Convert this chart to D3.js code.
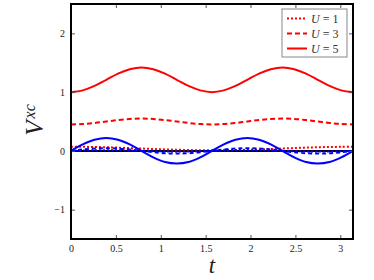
<!DOCTYPE html>
<html><head><meta charset="utf-8">
<script src="https://cdn.jsdelivr.net/npm/d3@7"></script>
<style>body{margin:0;background:#fff}svg{display:block}</style>
</head><body>
<svg id="c" width="374" height="280"></svg>
<script>
const tVals = [0,0.1309,0.2618,0.3927,0.5236,0.6545,0.7854,0.9163,1.0472,1.1781,1.309,1.4399,1.5708,1.7017,1.8326,1.9635,2.0944,2.2253,2.3562,2.4871,2.618,2.7489,2.8798,3.0107,3.1416];
const redU5 = [1.00,1.03,1.105,1.21,1.315,1.39,1.42,1.39,1.315,1.21,1.105,1.03,1.00,1.03,1.105,1.21,1.315,1.39,1.42,1.39,1.315,1.21,1.105,1.03,1.00];
const redU3 = [0.45,0.457,0.475,0.50,0.525,0.543,0.55,0.543,0.525,0.50,0.475,0.457,0.45,0.457,0.475,0.50,0.525,0.543,0.55,0.543,0.525,0.50,0.475,0.457,0.45];
const redU1 = [0.07,0.069,0.066,0.061,0.055,0.048,0.04,0.032,0.025,0.019,0.014,0.011,0.01,0.011,0.014,0.019,0.025,0.032,0.04,0.048,0.055,0.061,0.066,0.069,0.07];
const blueU5 = [0,0.11,0.19,0.22,0.19,0.11,0,-0.11,-0.19,-0.215,-0.19,-0.11,0,0.11,0.19,0.22,0.19,0.11,0,-0.11,-0.19,-0.215,-0.19,-0.11,0];
const blueU3 = [0,0.023,0.04,0.046,0.04,0.023,0,-0.023,-0.04,-0.046,-0.04,-0.023,0,0.023,0.04,0.046,0.04,0.023,0,-0.023,-0.04,-0.046,-0.04,-0.023,0];
const blueU1 = [0,0.005,0.009,0.01,0.009,0.005,0,-0.005,-0.009,-0.01,-0.009,-0.005,0,0.005,0.009,0.01,0.009,0.005,0,-0.005,-0.009,-0.01,-0.009,-0.005,0];
const xTicks = [0,0.5,1,1.5,2,2.5,3];
const yTicks = [-1,0,1,2];
const legendLabels = ["1","3","5"];

const svg = d3.select("#c");
const L=71, R=353, T=4, B=239;
const x = d3.scaleLinear().domain([0, Math.PI]).range([L,R]);
const y = d3.scaleLinear().domain([-1.5, 2.5]).range([B,T]);
const font = "'Liberation Serif','DejaVu Serif',serif";

svg.append("rect").attr("x",L).attr("y",T).attr("width",R-L).attr("height",B-T).attr("fill","#fff");

// zero line
svg.append("line").attr("x1",x(0)).attr("x2",x(Math.PI)).attr("y1",y(0)).attr("y2",y(0))
  .attr("stroke","#000").attr("stroke-width",2);

const line = d3.line().x((d,i)=>x(tVals[i])).y(d=>y(d)).curve(d3.curveCatmullRom);
const series = [
  {v:redU1,c:"#ff0000",dash:"2,2"},
  {v:redU3,c:"#ff0000",dash:"5,3"},
  {v:redU5,c:"#ff0000",dash:null},
  {v:blueU1,c:"#0000ff",dash:"2,2"},
  {v:blueU3,c:"#0000ff",dash:"4,3"},
  {v:blueU5,c:"#0000ff",dash:null}
];
series.forEach(s=>{
  svg.append("path").attr("d",line(s.v)).attr("fill","none").attr("stroke",s.c)
    .attr("stroke-width",2).attr("stroke-dasharray",s.dash);
});

// axes with inward ticks
const gb = svg.append("g").attr("transform",`translate(0,${B})`)
  .call(d3.axisBottom(x).tickValues(xTicks).tickSize(-4).tickPadding(6).tickFormat(d3.format("")));
const gt = svg.append("g").attr("transform",`translate(0,${T})`)
  .call(d3.axisTop(x).tickValues(xTicks).tickSize(-4).tickFormat(""));
const gl = svg.append("g").attr("transform",`translate(${L},0)`)
  .call(d3.axisLeft(y).tickValues(yTicks).tickSize(-4).tickPadding(6).tickFormat(d=>d<0?"\u2212"+Math.abs(d):d));
const gr = svg.append("g").attr("transform",`translate(${R},0)`)
  .call(d3.axisRight(y).tickValues(yTicks).tickSize(-4).tickFormat(""));
[gb,gt,gl,gr].forEach(g=>{
  g.select(".domain").remove();
  g.selectAll(".tick line").attr("stroke","#555").attr("stroke-width",1);
  g.selectAll("text").attr("font-family",font).attr("font-size",10).attr("fill","#222");
});

// frame
svg.append("rect").attr("x",L).attr("y",T).attr("width",R-L).attr("height",B-T)
  .attr("fill","none").attr("stroke","#000").attr("stroke-width",2);

// axis labels
svg.append("text").attr("x",212).attr("y",273).attr("text-anchor","middle")
  .attr("font-family",font).attr("font-style","italic").attr("font-size",23).attr("fill","#222").text("t");
const yl = svg.append("text").attr("transform","translate(43,120) rotate(-90)").attr("text-anchor","middle")
  .attr("font-family",font).attr("font-style","italic").attr("fill","#222");
yl.append("tspan").attr("font-size",25).text("V");
yl.append("tspan").attr("font-size",16).attr("dx",2).attr("dy",-8).text("xc");

// legend
const lg = svg.append("g");
lg.append("rect").attr("x",282).attr("y",9).attr("width",65).attr("height",48)
  .attr("fill","#fff").attr("stroke","#888").attr("stroke-width",1);
const dashes = ["2,2","5,3",null];
legendLabels.forEach((lab,i)=>{
  const yy = 18.5 + i*15;
  lg.append("line").attr("x1",287).attr("x2",307).attr("y1",yy).attr("y2",yy)
    .attr("stroke","#ff0000").attr("stroke-width",2).attr("stroke-dasharray",dashes[i]);
  const t = lg.append("text").attr("x",311).attr("y",yy+4).attr("font-family",font)
    .attr("font-size",12).attr("fill","#333");
  t.append("tspan").attr("font-style","italic").text("U");
  t.append("tspan").text(" = "+lab);
});
</script>
</body></html>
